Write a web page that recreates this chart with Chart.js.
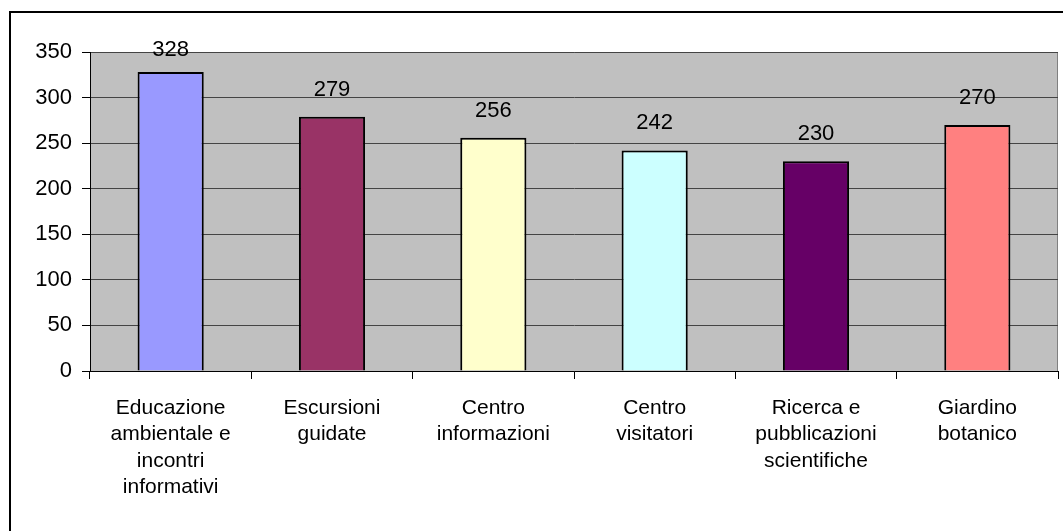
<!DOCTYPE html>
<html>
<head>
<meta charset="utf-8">
<script src="https://cdn.jsdelivr.net/npm/chart.js@4/dist/chart.umd.min.js"></script>
<style>
  html, body { margin: 0; padding: 0; background: #fff; }
  #wrap { width: 1063px; height: 531px; }
</style>
</head>
<body>
<div id="wrap"><canvas id="myChart" width="1063" height="531"></canvas></div>
<script>
const categories = [
  ["Educazione", "ambientale e", "incontri", "informativi"],
  ["Escursioni", "guidate"],
  ["Centro", "informazioni"],
  ["Centro", "visitatori"],
  ["Ricerca e", "pubblicazioni", "scientifiche"],
  ["Giardino", "botanico"]
];
const values = [328, 279, 256, 242, 230, 270];
const barColors = ["#9999FF", "#993366", "#FFFFCC", "#CCFFFF", "#660066", "#FF8080"];
const yTicks = [0, 50, 100, 150, 200, 250, 300, 350];

const FONT = "'Liberation Sans', Arial, sans-serif";

const frame = {
  id: "frame",
  beforeDraw(chart) {
    const { ctx, chartArea: a } = chart;
    ctx.save();
    ctx.fillStyle = "#C0C0C0";
    ctx.fillRect(a.left, a.top, a.right - a.left, a.bottom - a.top);
    ctx.strokeStyle = "#808080";
    ctx.lineWidth = 1;
    ctx.strokeRect(a.left + 0.5, a.top + 0.5, a.right - a.left - 1, a.bottom - a.top);
    ctx.restore();
  },
  afterDatasetsDraw(chart) {
    const { ctx, chartArea: a } = chart;
    const meta = chart.getDatasetMeta(0);
    ctx.save();
    ctx.fillStyle = "#000";
    ctx.font = "22px " + FONT;
    ctx.textAlign = "center";
    ctx.textBaseline = "middle";
    meta.data.forEach((bar, i) => {
      ctx.fillText(String(values[i]), bar.x, Math.max(bar.y - 27, a.top - 2));
    });
    ctx.restore();
  },
  afterDraw(chart) {
    const { ctx } = chart;
    ctx.save();
    ctx.strokeStyle = "#000";
    ctx.lineWidth = 2;
    ctx.strokeRect(10, 12, 1060, 530);
    ctx.restore();
  }
};

new Chart(document.getElementById("myChart"), {
  type: "bar",
  data: {
    labels: categories,
    datasets: [{
      data: values,
      backgroundColor: barColors,
      borderColor: "#000",
      borderWidth: 2,
      barPercentage: 0.41,
      categoryPercentage: 1
    }]
  },
  options: {
    responsive: false,
    animation: false,
    layout: { padding: { left: 0, top: 52, right: 5, bottom: 0 } },
    plugins: { legend: { display: false }, tooltip: { enabled: false } },
    scales: {
      x: {
        afterFit(scale) { scale.height = 160; },
        grid: { drawOnChartArea: false, drawTicks: true, tickLength: 8, color: "#000", offset: true },
        border: { color: "#000", width: 1 },
        ticks: {
          color: "#000",
          padding: 16,
          maxRotation: 0,
          autoSkip: false,
          font: { family: FONT, size: 21, lineHeight: 1.26 }
        }
      },
      y: {
        min: 0,
        max: 350,
        afterFit(scale) { scale.width = 90; },
        afterBuildTicks(scale) { scale.ticks = yTicks.map(v => ({ value: v })); },
        grid: { color: "#444", tickColor: "#000", tickLength: 8, lineWidth: 1 },
        border: { color: "#000", width: 1 },
        ticks: {
          color: "#000",
          padding: 10,
          font: { family: FONT, size: 22 }
        }
      }
    }
  },
  plugins: [frame]
});
</script>
</body>
</html>
